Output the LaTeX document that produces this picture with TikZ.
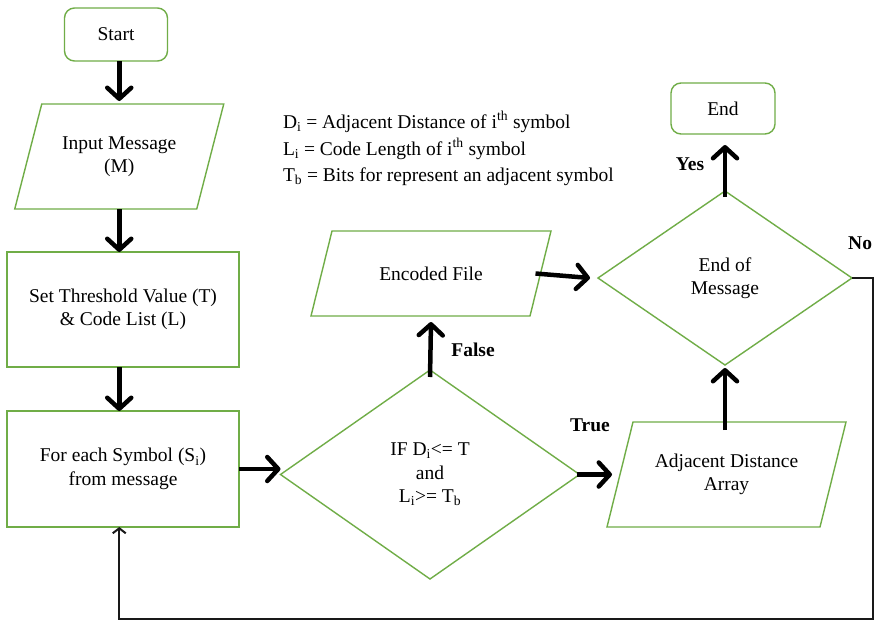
\documentclass[tikz,border=0pt]{standalone}
\usepackage{fontspec}
\setmainfont{Liberation Serif}
\usetikzlibrary{arrows.meta,shapes.geometric}
\definecolor{boxgreen}{RGB}{112,173,71}
\begin{document}
\begin{tikzpicture}[x=1pt,y=-1pt,
  every node/.style={font=\fontsize{19.5}{23.5}\selectfont, align=center, outer sep=0pt},
  shapeline/.style={draw=boxgreen, line width=1.4pt},
  roundbox/.style={shapeline, rectangle, rounded corners=10pt},
  plainbox/.style={shapeline, rectangle},
  decision/.style={shapeline, diamond, inner sep=0pt},
  slantbody/.style={rectangle, inner sep=0pt},
  arr/.style={draw=black, line width=4.5pt, -{Straight Barb[length=11pt,width=24pt,round]}},
  thinarr/.style={draw=black!90, line width=2pt, -{Straight Barb[length=5pt,width=13pt]}},
  lbl/.style={font=\fontsize{19.5}{23.5}\selectfont\bfseries, inner sep=0pt},
  legend/.style={anchor=base west, inner sep=0pt}
]
\clip (0,0) rectangle (874,621);
\fill[white] (0,0) rectangle (874,621);

% terminals
\node[roundbox, minimum width=103pt, minimum height=53pt] (start) at (116,34.5) {Start};
\node[roundbox, minimum width=104pt, minimum height=51pt] (end) at (723,108.5) {End};

% process boxes
\node[plainbox, minimum width=232pt, minimum height=115pt] (set) at (123,309.5) {Set Threshold Value (T)\\\& Code List (L)};
\node[plainbox, minimum width=232pt, minimum height=116pt] (each) at (123,469) {For each Symbol (S\textsubscript{i})\\from message};

% decisions
\node[decision, minimum width=299pt, minimum height=209pt] (cond) at (430,474.5) {IF D\textsubscript{i}<= T\\and\\L\textsubscript{i}>= T\textsubscript{b}};
\node[decision, minimum width=254pt, minimum height=174pt] (eom) at (725,278) {End of\\Message};

% input / output (parallelograms)
\node[slantbody, minimum width=182pt, minimum height=105pt] (input) at (119.25,156.5) {Input Message\\(M)};
\draw[shapeline] ([xshift=13.5pt]input.north west) -- ([xshift=13.5pt]input.north east)
  -- ([xshift=-13.5pt]input.south east) -- ([xshift=-13.5pt]input.south west) -- cycle;

\node[slantbody, minimum width=213pt, minimum height=105pt] (adj) at (726.5,474.5) {Adjacent Distance\\Array};
\draw[shapeline] ([xshift=13pt]adj.north west) -- ([xshift=13pt]adj.north east)
  -- ([xshift=-13pt]adj.south east) -- ([xshift=-13pt]adj.south west) -- cycle;

\node[slantbody, minimum width=219pt, minimum height=85pt] (enc) at (431,273.5) {Encoded File};
\draw[shapeline] ([xshift=10.5pt]enc.north west) -- ([xshift=10.5pt]enc.north east)
  -- ([xshift=-10.5pt]enc.south east) -- ([xshift=-10.5pt]enc.south west) -- cycle;

% legend
\node[legend] (leg1) at (283,128) {D\textsubscript{i} = Adjacent Distance of i\textsuperscript{th} symbol};
\node[legend] (leg2) at (283,155) {L\textsubscript{i} = Code Length of i\textsuperscript{th} symbol};
\node[legend] (leg3) at (283,181) {T\textsubscript{b} = Bits for represent an adjacent symbol};

% connectors
\draw[arr] (start.south -| input) -- ([yshift=3pt]input.north);
\draw[arr] (input.south) -- (input.south |- set.north);
\draw[arr] (set.south -| input) -- (each.north -| input);
\draw[arr] (each.east) -- (each.east -| cond.west);
\draw[arr] ([xshift=-3pt]cond.east) -- ([xshift=-8pt]adj.west);
\draw[arr] ([yshift=-7pt]cond.north) -- ([yshift=-6pt]enc.south);
\draw[arr] ([yshift=-8pt]adj.north -| eom) -- ([yshift=-3pt]eom.south);
\draw[arr] ([yshift=-6pt]eom.north) -- ([yshift=-11pt]end.south -| eom.north);
\draw[arr] ([xshift=-5pt]enc.east) -- ([xshift=-8pt]eom.west);

\coordinate (loopR) at (873,619);
\draw[thinarr] (eom.east) -| (loopR) -| (each.south -| input);

% branch labels
\node[lbl] (ltrue) at (590,425) {True};
\node[lbl] (lfalse) at (473,350) {False};
\node[lbl] (lyes) at (690,164) {Yes};
\node[lbl, anchor=east] (lno) at (872,243) {No};
\end{tikzpicture}
\end{document}
